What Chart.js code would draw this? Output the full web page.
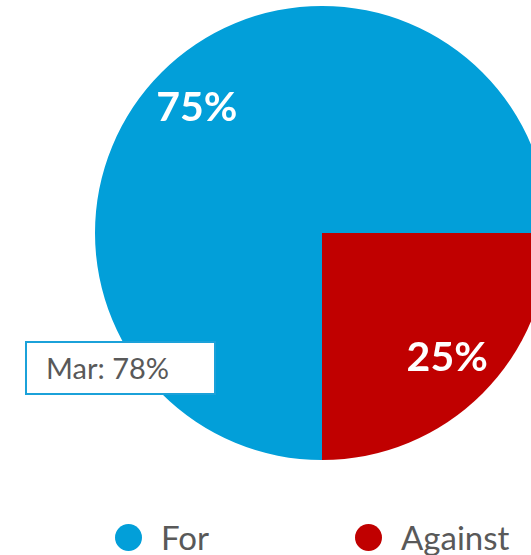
<!DOCTYPE html>
<html>
<head>
<meta charset="utf-8">
<script src="https://cdn.jsdelivr.net/npm/chart.js@4/dist/chart.umd.min.js"></script>
<style>
    html, body { margin: 0; padding: 0; background: #fff; }
    body { width: 531px; height: 555px; overflow: hidden; position: relative; font-family: Lato, "Open Sans", sans-serif; }
    .pie-wrap { position: absolute; left: 0; top: 0; width: 644px; height: 466px; }
    .note {
        position: absolute; left: 25px; top: 341px; width: 168px; height: 50px;
        border: 2px solid #1ba1d9; background: #fff;
        font-size: 29px; color: #595959; line-height: 50px; padding-left: 19px; box-sizing: content-box;
    }
    .legend { position: absolute; left: 115px; top: 523px; display: flex; }
    .legend-item { display: flex; align-items: center; width: 240px; height: 28px; }
    .legend-dot { width: 27px; height: 27px; border-radius: 50%; margin-right: 19px; }
    .legend-label { font-size: 33px; color: #595959; line-height: 28px; }
</style>
</head>
<body>
<div class="pie-wrap"><canvas id="pieChart" width="644" height="466"></canvas></div>
<div class="note" id="note"></div>
<div class="legend" id="legend"></div>
<script>
(function (window, document) {
    "use strict";

    const categories = ["For", "Against"];
    const shares = [75, 25];
    const colors = ["#029fd9", "#c00000"];
    const noteText = "Mar: 78%";

    // white % labels inside each slice, placed along the mid angle
    const sliceLabels = {
        id: "sliceLabels",
        afterDatasetsDraw(chart) {
            const ctx = chart.ctx;
            const arcs = chart.getDatasetMeta(0).data;
            ctx.save();
            ctx.fillStyle = "#ffffff";
            ctx.font = "bold 41px Lato, 'Open Sans', sans-serif";
            ctx.textAlign = "center";
            ctx.textBaseline = "middle";
            arcs.forEach((arc, index) => {
                const p = arc.getProps(["x", "y", "startAngle", "endAngle", "outerRadius"], true);
                const mid = (p.startAngle + p.endAngle) / 2;
                const r = p.outerRadius * 0.78;
                ctx.fillText(shares[index] + "%", p.x + Math.cos(mid) * r, p.y + Math.sin(mid) * r);
            });
            ctx.restore();
        }
    };

    new Chart(document.getElementById("pieChart").getContext("2d"), {
        type: "pie",
        data: {
            labels: categories,
            datasets: [{ data: shares, backgroundColor: colors, borderWidth: 0 }]
        },
        options: {
            responsive: false,
            animation: false,
            rotation: 180,
            layout: { padding: { top: 6, bottom: 6, left: 0, right: 0 } },
            plugins: {
                legend: { display: false },
                tooltip: { enabled: false }
            }
        },
        plugins: [sliceLabels]
    });

    document.getElementById("note").textContent = noteText;

    document.getElementById("legend").innerHTML = categories.map((label, index) => `
        <div class="legend-item"><div class="legend-dot" style="background:${colors[index]}"></div><span class="legend-label">${label}</span></div>
    `).join("");
})(window, document);
</script>
</body>
</html>
